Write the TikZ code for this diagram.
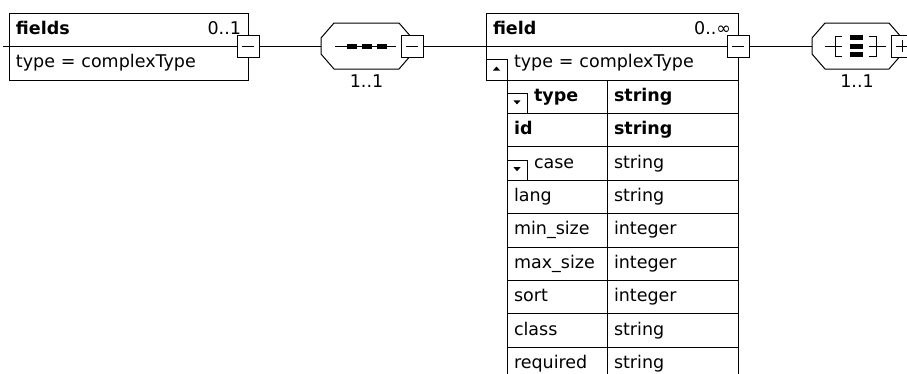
\documentclass[tikz,border=0pt]{standalone}
\usepackage{fontspec}
\setmainfont{DejaVu Sans}
\usepackage{tikz}
\usetikzlibrary{
        calc,
        positioning
    }
\tikzset{>=stealth,auto}

\begin{document}
\fontsize{17.5}{21}\selectfont
\begin{tikzpicture}[x=1pt,y=-1pt,line width=1pt,inner sep=0pt,outer sep=0pt]
        \tikzset{box/.style={draw,fill=white,inner xsep=7pt,align=left,text height=12.5pt,text depth=3.5pt},
                 head/.style={box,minimum height=33pt,anchor=south west},
                 attr/.style={box,minimum height=34pt},
                 cell/.style={box,minimum height=33.4pt,anchor=north west},
                 compositor/.style={minimum width=91pt,minimum height=46pt},
                 sign/.style={draw,fill=white,minimum size=22pt},
                 minus/.style={sign,path picture={\draw ([xshift=-6pt]path picture bounding box.center) -- ([xshift=6pt]path picture bounding box.center);}},
                 plus/.style={sign,path picture={\draw ([xshift=-6pt]path picture bounding box.center) -- ([xshift=6pt]path picture bounding box.center)
                                                       ([yshift=-6pt]path picture bounding box.center) -- ([yshift=6pt]path picture bounding box.center);}},
                 toggle/.style={draw,fill=white,minimum width=21pt,minimum height=21pt,anchor=south west},
                 up/.style={toggle,path picture={\fill[black] ([shift={(-3.5,1)}]path picture bounding box.center) -- ++(7,0) -- ++(-3.5,-4) -- cycle;}},
                 down/.style={toggle,path picture={\fill[black] ([shift={(-3.5,-3)}]path picture bounding box.center) -- ++(7,0) -- ++(-3.5,4) -- cycle;}}}
        \path[use as bounding box,fill=white] (0,0) rectangle (907,373);

        % fields
        \coordinate (in) at (3,46);
        \node[head,text width=225pt] (fieldsh) at (9,46) {{\bfseries fields}\hfill 0..1\hspace*{3pt}};
        \node[attr,text width=225pt,below=0pt of fieldsh] (fieldsa) {type = complexType};
        \node[minus] (m1) at (fieldsh.south east) {};
        \draw (in) -- (fieldsh.south west);

        % sequence
        \node[compositor,right=62pt of m1] (seq) {};
        \draw (seq.west) ++(0,-8) -- ++(13,-15) -- ($(seq.north east)+(-13,0)$) -- ++(13,15) -- ++(0,16)
              -- ++(-13,15) -- ($(seq.south west)+(13,0)$) -- ++(-13,-15) -- cycle;
        \draw ($(seq.west)+(14,0)$) -- ($(seq.east)+(-16,0)$);
        \foreach \x in {26,41,56}
            \fill ($(seq.west)+(\x,-2.5)$) rectangle ++(10,5);
        \node[minus] (m2) at (seq.east) {};
        \node[below=6pt of seq] (seqn) {1..1};
        \draw (m1.east) -- (seq.west);

        % field
        \node[head,text width=238pt] (fieldh) at ([xshift=63pt]m2.east) {{\bfseries field}\hfill 0..∞\hspace*{5pt}};
        \node[attr,text width=238pt,below=0pt of fieldh] (fielda) {\hspace*{21pt}type = complexType};
        \node[up] (up1) at (fielda.south west) {};
        \node[minus] (m3) at (fieldh.south east) {};
        \draw (m2.east) -- (fieldh.south west);

        % attributes
        \foreach \nm/\ty/\fnt/\pad [count=\i] in {type/string/\bfseries/20, id/string/\bfseries/0,
                case/string/\mdseries/20, lang/string/\mdseries/0, min\_size/integer/\mdseries/0,
                max\_size/integer/\mdseries/0, sort/integer/\mdseries/0, class/string/\mdseries/0,
                required/string/\mdseries/0}
        {
            \node[cell,text width=86pt,font=\fnt] (n\i) at ($(fielda.south west)+(21,{(\i-1)*33.4})$) {\hspace*{\pad pt}\nm};
            \node[cell,text width=117pt,font=\fnt] (t\i) at (n\i.north east) {\ty};
        }
        \node[down,minimum width=20pt,minimum height=20pt] (d1) at (n1.south west) {};
        \node[down,minimum width=20pt,minimum height=20pt] (d3) at (n3.south west) {};

        % choice
        \node[compositor,minimum width=90pt,right=63pt of m3] (choice) {};
        \draw (choice.west) ++(0,-8) -- ++(13,-15) -- ($(choice.north east)+(-13,0)$) -- ++(13,15) -- ++(0,16)
              -- ++(-13,15) -- ($(choice.south west)+(13,0)$) -- ++(-13,-15) -- cycle;
        \draw ($(choice.west)+(13,0)$) -- ++(17,0);
        \draw ($(choice.west)+(30,-10)$) -- ++(-7,0) -- ++(0,20) -- ++(7,0);
        \foreach \y in {-11,-2.5,6}
            \fill ($(choice.west)+(38,\y)$) rectangle ++(13,5);
        \draw ($(choice.west)+(57,-10)$) -- ++(7,0) -- ++(0,20) -- ++(-7,0);
        \draw ($(choice.west)+(57,0)$) -- ++(17,0);
        \node[plus] (p1) at (choice.east) {};
        \node[below=6pt of choice] (choicen) {1..1};
        \draw (m3.east) -- (choice.west);
\end{tikzpicture}
\end{document}
